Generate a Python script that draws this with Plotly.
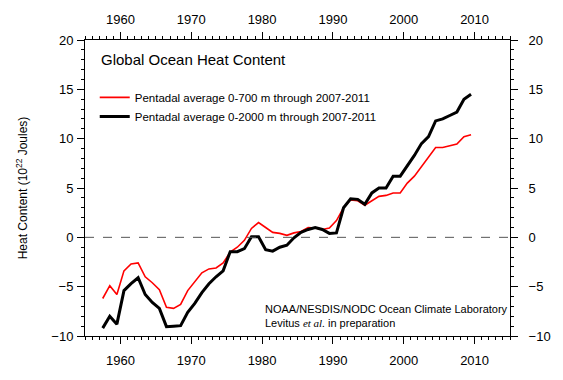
import plotly.graph_objects as go

# Pentadal centre years (1955-1959 ... 2007-2011)
years = [1957.5 + i for i in range(53)]

# 0-700 m heat content (10^22 J)
ohc_700 = [-6.2, -4.9, -5.8, -3.4, -2.7, -2.6, -4.0, -4.6, -5.3, -7.1,
           -7.2, -6.8, -5.4, -4.5, -3.6, -3.2, -3.1, -2.6, -1.5, -1.0,
           -0.3, 0.9, 1.5, 1.0, 0.5, 0.4, 0.2, 0.45, 0.6, 1.0,
           0.95, 0.8, 0.95, 1.7, 3.0, 3.8, 3.7, 3.25, 3.7, 4.15,
           4.25, 4.5, 4.5, 5.5, 6.2, 7.2, 8.1, 9.1, 9.1, 9.3,
           9.45, 10.2, 10.4]

# 0-2000 m heat content (10^22 J)
ohc_2000 = [-9.2, -8.0, -8.8, -5.4, -4.7, -4.1, -5.8, -6.6, -7.2, -9.05,
            -9.0, -8.95, -7.6, -6.7, -5.6, -4.7, -4.0, -3.4, -1.45, -1.45,
            -1.15, 0.05, 0.05, -1.25, -1.4, -1.0, -0.8, -0.05, 0.5, 0.8,
            1.0, 0.8, 0.4, 0.45, 3.0, 3.9, 3.85, 3.35, 4.5, 5.0,
            5.0, 6.2, 6.2, 7.2, 8.3, 9.5, 10.2, 11.8, 12.0, 12.35,
            12.7, 14.0, 14.5]

x_range = [1955, 2015]
y_range = [-10, 20]
x_ticks = [1960, 1970, 1980, 1990, 2000, 2010]
y_ticks = [-10, -5, 0, 5, 10, 15, 20]
zero_level = 0

FONT = "Liberation Sans, Arial, Helvetica, sans-serif"

fig = go.Figure()
fig.add_trace(go.Scatter(x=years, y=ohc_700, mode="lines",
                         line=dict(color="#ff0000", width=1.6),
                         name="Pentadal average 0-700 m through 2007-2011"))
fig.add_trace(go.Scatter(x=years, y=ohc_2000, mode="lines",
                         line=dict(color="#000000", width=3),
                         name="Pentadal average 0-2000 m through 2007-2011"))
# invisible trace to activate the mirrored (top/right) labelled axes
fig.add_trace(go.Scatter(x=years, y=ohc_2000, xaxis="x2", yaxis="y2",
                         mode="lines", line=dict(width=0), opacity=0,
                         showlegend=False, hoverinfo="skip"))

fig.add_hline(y=zero_level, line=dict(color="#555555", width=1, dash="dash"))


def axis_common(standoff):
    return dict(showline=True, linecolor="black", linewidth=1,
                ticks="outside", ticklen=7, tickcolor="black", tickwidth=1,
                showgrid=False, zeroline=False, ticklabelstandoff=standoff,
                tickfont=dict(family=FONT, size=13, color="black"))


x_minor = dict(dtick=1, tick0=1955, ticks="outside", ticklen=3, tickcolor="black")
y_minor = dict(dtick=1, tick0=0, ticks="outside", ticklen=3, tickcolor="black")

fig.update_layout(
    width=563, height=380,
    margin=dict(l=85, r=41, t=40, b=36),
    paper_bgcolor="white", plot_bgcolor="white",
    font=dict(family=FONT, size=12, color="black"),
    xaxis=dict(range=x_range, tickvals=x_ticks, side="bottom",
               minor=x_minor, **axis_common(5)),
    xaxis2=dict(range=x_range, tickvals=x_ticks, side="top", overlaying="x",
                minor=x_minor, **axis_common(3)),
    yaxis=dict(range=y_range, tickvals=y_ticks, side="left",
               title=dict(text="Heat Content (10<sup>22</sup> Joules)",
                          font=dict(family=FONT, size=12), standoff=21),
               minor=y_minor, **axis_common(1)),
    yaxis2=dict(range=y_range, tickvals=y_ticks, side="right", overlaying="y",
                minor=y_minor, **axis_common(8)),
    legend=dict(x=0.0229, y=0.855, xanchor="left", yanchor="top",
                bgcolor="rgba(0,0,0,0)", borderwidth=0,
                font=dict(family=FONT, size=11.5), itemwidth=30,
                tracegroupgap=0),
    showlegend=True,
    annotations=[
        dict(text="Global Ocean Heat Content", xref="paper", yref="paper",
             x=0.034, y=0.934, xanchor="left", yanchor="middle",
             showarrow=False, font=dict(family=FONT, size=15)),
        dict(text="NOAA/NESDIS/NODC Ocean Climate Laboratory", xref="paper",
             yref="paper", x=0.419, y=0.092, xanchor="left", yanchor="middle",
             showarrow=False, font=dict(family=FONT, size=11)),
        dict(text="Levitus <span style='font-family:Liberation Serif, serif;font-style:italic'>et al.</span> in preparation",
             xref="paper", yref="paper", x=0.419, y=0.043, xanchor="left",
             yanchor="middle", showarrow=False, font=dict(family=FONT, size=11)),
    ],
)

fig.write_html("out.html", config={"displayModeBar": False},
               post_script="document.body.style.margin='0';")
